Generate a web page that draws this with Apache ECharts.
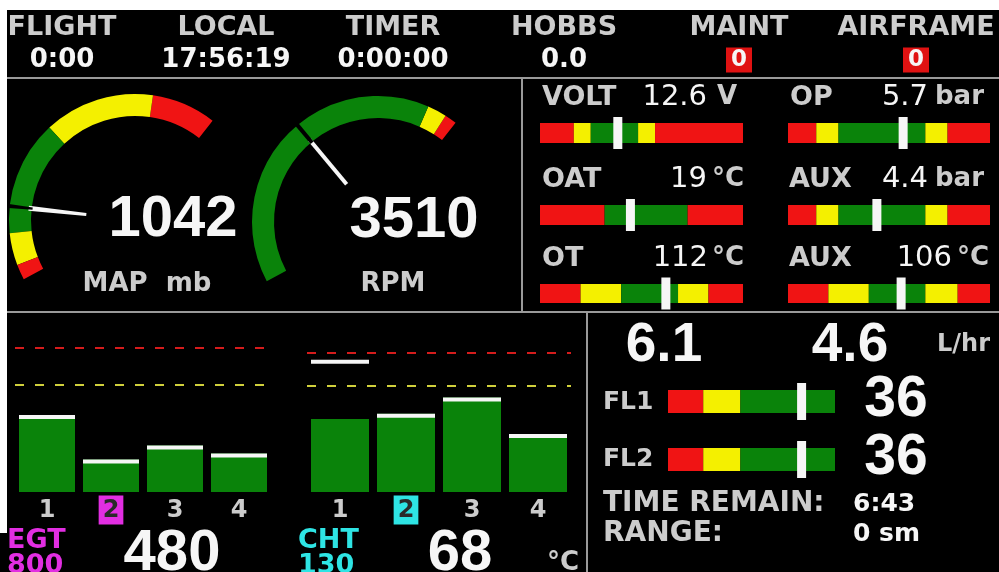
<!DOCTYPE html>
<html>
<head>
<meta charset="utf-8">
<script src="https://cdn.jsdelivr.net/npm/echarts@6/dist/echarts.min.js"></script>
<style>
html, body { margin: 0; padding: 0; background: #fff; }
#main { width: 999px; height: 572px; }
</style>
</head>
<body>
<div id="main"></div>
<script>
// header timers
const headerLabels = ['FLIGHT', 'LOCAL', 'TIMER', 'HOBBS', 'MAINT', 'AIRFRAME'];
const headerValues = ['0:00', '17:56:19', '0:00:00', '0.0', '0', '0'];
const headerAlerts = [false, false, false, false, true, true];

// round gauges
const mapValue = 1042;
const mapRange = [800, 1900];
const mapStops = [850, 955, 1330, 1690, 1900];
const mapColors = ['red', 'yellow', 'green', 'yellow', 'red'];
const rpmValue = 3510;
const rpmRange = [0, 7000];
const rpmStops = [6350, 6750, 7000];
const rpmColors = ['green', 'yellow', 'red'];

// small bar indicators
const barNames = ['VOLT', 'OP', 'OAT', 'AUX', 'OT', 'AUX'];
const barValues = [12.6, 5.7, 19, 4.4, 112, 106];
const barUnits = ['V', 'bar', '°C', 'bar', '°C', '°C'];
const barMins = [8, 0, -30, 0, 50, 50];
const barMaxs = [20, 10, 80, 10, 150, 150];
const barStops = [
  [10, 11, 13.8, 14.8, 20],
  [1.4, 2.5, 6.8, 7.9, 10],
  [5, 50, 80],
  [1.4, 2.5, 6.8, 7.9, 10],
  [70, 90, 118, 133, 150],
  [70, 90, 118, 134, 150]
];
const barColors = [
  ['red', 'yellow', 'green', 'yellow', 'red'],
  ['red', 'yellow', 'green', 'yellow', 'red'],
  ['red', 'green', 'red'],
  ['red', 'yellow', 'green', 'yellow', 'red'],
  ['red', 'yellow', 'green', 'yellow', 'red'],
  ['red', 'yellow', 'green', 'yellow', 'red']
];

// fuel
const fuelFlows = [6.1, 4.6];
const fuelFlowUnit = 'L/hr';
const fuelNames = ['FL1', 'FL2'];
const fuelLevels = [36, 36];
const fuelRange = [0, 45];
const fuelStops = [9.5, 19.5, 45];
const fuelColors = ['red', 'yellow', 'green'];
const timeRemain = '6:43';
const rangeText = '0 sm';

// EGT / CHT columns
const cylinders = ['1', '2', '3', '4'];
const egtBars = [590, 480, 515, 495];
const egtCaps = [590, 480, 515, 495];
const egtRange = [400, 800];
const egtRedLine = 755;
const egtYellowLine = 665;
const egtSelected = 1;
const egtLimit = 800;
const chtBars = [64, 68, 80, 53];
const chtCaps = [108, 68, 80, 53];
const chtRange = [10, 130];
const chtRedLine = 113;
const chtYellowLine = 89;
const chtSelected = 1;
const chtLimit = 130;

const COL = {
  red: '#f01414', yellow: '#f4f000', green: '#0a830a', white: '#f6f6f6',
  grey: '#cccccc', magenta: '#e22ee2', cyan: '#2ee4e4', line: '#9a9a9a'
};
const LABEL_FONT = '"DejaVu Sans"';
const BIG_FONT = '"Liberation Sans"';

const graphics = [];
function txt(x, y, text, font, fill, align, extra) {
  graphics.push({
    type: 'text', x: x, y: y, silent: true, z: 10,
    style: Object.assign({ text: text, font: font, fill: fill, align: align || 'center', verticalAlign: 'middle' }, extra || {})
  });
}
function hline(x1, y1, x2, y2) {
  graphics.push({ type: 'line', silent: true, z: 9, shape: { x1: x1, y1: y1, x2: x2, y2: y2 }, style: { stroke: COL.line, lineWidth: 2 } });
}

// white frame of the photo
graphics.push({ type: 'rect', z: 20, silent: true, shape: { x: 0, y: 0, width: 999, height: 10 }, style: { fill: '#fff' } });
graphics.push({ type: 'rect', z: 20, silent: true, shape: { x: 0, y: 0, width: 7, height: 533 }, style: { fill: '#fff' } });

// panel dividers
hline(7, 78, 999, 78);
hline(522, 79, 522, 312);
hline(7, 312, 999, 312);
hline(587, 312, 587, 572);

// header
const headerX = [62, 226, 393, 564, 739, 916];
headerLabels.forEach(function (l, i) {
  txt(headerX[i], 28, l, 'bold 27px ' + LABEL_FONT, COL.grey);
  if (headerAlerts[i]) {
    txt(headerX[i], 60, headerValues[i], 'bold 23px ' + LABEL_FONT, COL.white, 'center',
      { backgroundColor: '#e01212', padding: [3, 5, 2, 5], lineHeight: 20 });
  } else {
    txt(headerX[i], 60, headerValues[i], 'bold 26px ' + LABEL_FONT, COL.white);
  }
});

// layout of the small bars
const barLayout = [
  { x: 540, w: 203, y: 123, h: 20, lx: 542, ly: 98, vx: 707, ux: 717 },
  { x: 788, w: 202, y: 123, h: 20, lx: 790, ly: 98, vx: 928, ux: 935 },
  { x: 540, w: 203, y: 205, h: 20, lx: 542, ly: 180, vx: 707, ux: 712 },
  { x: 788, w: 202, y: 205, h: 20, lx: 789, ly: 180, vx: 928, ux: 935 },
  { x: 540, w: 203, y: 284, h: 19, lx: 542, ly: 259, vx: 708, ux: 712 },
  { x: 788, w: 202, y: 284, h: 19, lx: 789, ly: 259, vx: 952, ux: 957 }
];
const fuelLayout = [
  { x: 668, w: 167, y: 390, h: 23, ly: 402, vy: 400 },
  { x: 668, w: 167, y: 448, h: 23, ly: 459, vy: 458 }
];

const grids = [], xAxes = [], yAxes = [], series = [];

function bandAreas(min, stops, colors) {
  let prev = min;
  return stops.map(function (s, i) {
    const a = [{ xAxis: prev, itemStyle: { color: COL[colors[i]] } }, { xAxis: s }];
    prev = s;
    return a;
  });
}

function addBar(box, min, max, stops, colors, value, markH) {
  const idx = grids.length;
  grids.push({ left: box.x, top: box.y, width: box.w, height: box.h });
  xAxes.push({ type: 'value', gridIndex: idx, min: min, max: max, show: false });
  yAxes.push({ type: 'value', gridIndex: idx, min: 0, max: 1, show: false });
  series.push({
    type: 'line', xAxisIndex: idx, yAxisIndex: idx, data: [], silent: true,
    markArea: { silent: true, label: { show: false }, itemStyle: { opacity: 1 }, data: bandAreas(min, stops, colors) }
  });
  series.push({
    type: 'scatter', xAxisIndex: idx, yAxisIndex: idx, silent: true, z: 5,
    data: [[value, 0.5]], symbol: 'rect', symbolSize: [9, markH],
    itemStyle: { color: COL.white, opacity: 1 }
  });
}

barNames.forEach(function (n, i) {
  const b = barLayout[i];
  addBar(b, barMins[i], barMaxs[i], barStops[i], barColors[i], barValues[i], 32);
  txt(b.lx, b.ly, n, 'bold 27px ' + LABEL_FONT, COL.grey, 'left');
  txt(b.vx, b.ly - 1, String(barValues[i]), '29px ' + LABEL_FONT, COL.white, 'right');
  txt(b.ux, b.ly - 1, barUnits[i], 'bold 26px ' + LABEL_FONT, COL.grey, 'left');
});

// fuel panel
fuelNames.forEach(function (n, i) {
  const b = fuelLayout[i];
  addBar(b, fuelRange[0], fuelRange[1], fuelStops, fuelColors, fuelLevels[i], 37);
  txt(603, b.ly, n, 'bold 25px ' + LABEL_FONT, COL.grey, 'left');
  txt(896, b.vy, String(fuelLevels[i]), 'bold 57px ' + BIG_FONT, COL.white);
});
txt(664, 346, String(fuelFlows[0]), 'bold 55px ' + BIG_FONT, COL.white);
txt(850, 346, String(fuelFlows[1]), 'bold 55px ' + BIG_FONT, COL.white);
txt(937, 345, fuelFlowUnit, 'bold 24px ' + LABEL_FONT, COL.grey, 'left');
txt(603, 504, 'TIME REMAIN:', 'bold 28px ' + LABEL_FONT, COL.grey, 'left');
txt(853, 504, timeRemain, 'bold 25px ' + LABEL_FONT, COL.white, 'left');
txt(603, 534, 'RANGE:', 'bold 28px ' + LABEL_FONT, COL.grey, 'left');
txt(853, 534, rangeText, 'bold 25px ' + LABEL_FONT, COL.white, 'left');

// EGT / CHT column charts
function addColumns(box, cats, bars, caps, range, redLine, yellowLine, sel, selColor, barW) {
  const idx = grids.length;
  grids.push({ left: box.x, top: box.y, width: box.w, height: box.h });
  xAxes.push({
    type: 'category', gridIndex: idx, data: cats,
    axisLine: { show: false }, axisTick: { show: false }, splitLine: { show: false },
    axisLabel: {
      margin: 5,
      formatter: function (v, i) { return i === sel ? '{s|' + v + '}' : '{n|' + v + '}'; },
      rich: {
        n: { color: COL.grey, fontSize: 24, fontWeight: 'bold', fontFamily: 'DejaVu Sans', lineHeight: 26, padding: [3, 4, 2, 4] },
        s: { color: '#2a2a2a', backgroundColor: selColor, fontSize: 24, fontWeight: 'bold', fontFamily: 'DejaVu Sans', lineHeight: 26, padding: [3, 4, 2, 4] }
      }
    }
  });
  yAxes.push({ type: 'value', gridIndex: idx, min: range[0], max: range[1], show: false, splitLine: { show: false } });
  series.push({
    type: 'bar', xAxisIndex: idx, yAxisIndex: idx, data: bars, barWidth: barW, silent: true,
    itemStyle: { color: COL.green },
    markLine: {
      silent: true, symbol: 'none', label: { show: false },
      data: [
        { yAxis: redLine, lineStyle: { color: '#d41c1c', width: 2, type: [9, 11] } },
        { yAxis: yellowLine, lineStyle: { color: '#cfcf3c', width: 2, type: [9, 11] } }
      ]
    }
  });
  series.push({
    type: 'scatter', xAxisIndex: idx, yAxisIndex: idx, data: caps, silent: true, z: 5,
    symbol: 'rect', symbolSize: [barW, 4], symbolOffset: [0, 2],
    itemStyle: { color: COL.white, opacity: 1 }
  });
}
addColumns({ x: 15, y: 330, w: 256, h: 162 }, cylinders, egtBars, egtCaps, egtRange, egtRedLine, egtYellowLine, egtSelected, COL.magenta, 56);
addColumns({ x: 307, y: 330, w: 264, h: 162 }, cylinders, chtBars, chtCaps, chtRange, chtRedLine, chtYellowLine, chtSelected, COL.cyan, 58);

txt(7, 541, 'EGT', 'bold 27px ' + LABEL_FONT, COL.magenta, 'left');
txt(7, 566, String(egtLimit), 'bold 27px ' + LABEL_FONT, COL.magenta, 'left');
txt(172, 554, String(egtBars[egtSelected]), 'bold 58px ' + BIG_FONT, COL.white);
txt(298, 541, 'CHT', 'bold 27px ' + LABEL_FONT, COL.cyan, 'left');
txt(298, 566, String(chtLimit), 'bold 27px ' + LABEL_FONT, COL.cyan, 'left');
txt(460, 554, String(chtCaps[chtSelected]), 'bold 58px ' + BIG_FONT, COL.white);
txt(547, 563, '°C', 'bold 26px ' + LABEL_FONT, COL.grey, 'left');

// round gauges
function stopsToColors(range, stops, colors) {
  return stops.map(function (s, i) { return [(s - range[0]) / (range[1] - range[0]), COL[colors[i]]]; });
}
function gauge(center, range, stops, colors, value, name, detailOff, titleOff, needleIcon, needleW) {
  return {
    type: 'gauge', center: center, radius: 126, startAngle: 208, endAngle: 52,
    min: range[0], max: range[1], splitNumber: 1, silent: true,
    axisLine: { show: true, roundCap: false, lineStyle: { width: 22, color: stopsToColors(range, stops, colors) } },
    axisTick: { show: false }, splitLine: { show: false }, axisLabel: { show: false },
    progress: { show: false }, anchor: { show: false },
    pointer: { show: true, icon: needleIcon, keepAspect: false },
    title: { offsetCenter: titleOff, color: COL.grey, fontSize: 26, fontWeight: 'bold', fontFamily: 'DejaVu Sans' },
    detail: {
      offsetCenter: detailOff, formatter: '{value}', color: COL.white, fontSize: 58, fontWeight: 'bold',
      fontFamily: 'Liberation Sans', width: 170, lineHeight: 60, valueAnimation: false
    },
    data: [
      { value: value, name: name,
        pointer: { width: needleW, length: 58, offsetCenter: [0, -49], itemStyle: { color: COL.white } } },
      { value: value, name: '', title: { show: false }, detail: { show: false },
        pointer: { width: 4, length: 24, offsetCenter: [0, -103], itemStyle: { color: '#000' } } }
    ]
  };
}
series.push(gauge([135, 220], mapRange, mapStops, mapColors, mapValue, 'MAP  mb', [38, 0], [12, 64], 'path://M0,0L10,0L8,100L2,100Z', 5));
series.push(gauge([378, 222], rpmRange, rpmStops, rpmColors, rpmValue, 'RPM', [36, -1], [15, 62], 'rect', 4));

var myChart = echarts.init(document.getElementById('main'));
myChart.setOption({
  animation: false,
  backgroundColor: '#000',
  grid: grids,
  xAxis: xAxes,
  yAxis: yAxes,
  series: series,
  graphic: graphics
});
</script>
</body>
</html>
